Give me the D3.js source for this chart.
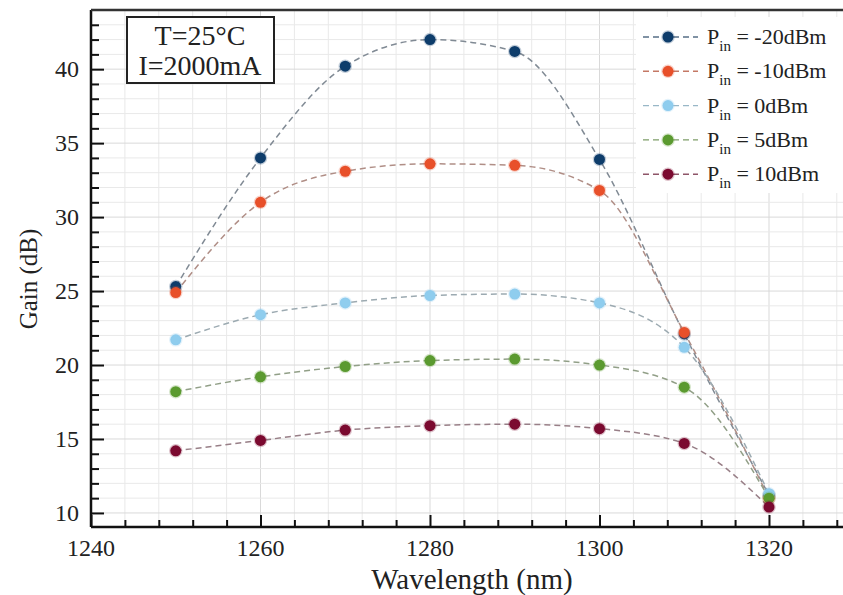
<!DOCTYPE html>
<html>
<head>
<meta charset="utf-8">
<script src="https://cdn.jsdelivr.net/npm/d3@7"></script>
<style>
  body { margin: 0; background: #fff; }
</style>
</head>
<body>
<div class="chart"></div>
<script>
// wavelengths (nm)
var wavelengths = [1250, 1260, 1270, 1280, 1290, 1300, 1310, 1320];
// gain (dB) for each input power
var gainM20 = [25.3, 34.0, 40.2, 42.0, 41.2, 33.9, 22.1, 11.2];
var gainM10 = [24.9, 31.0, 33.1, 33.6, 33.5, 31.8, 22.2, 11.0];
var gain0   = [21.7, 23.4, 24.2, 24.7, 24.8, 24.2, 21.2, 11.3];
var gain5   = [18.2, 19.2, 19.9, 20.3, 20.4, 20.0, 18.5, 11.0];
var gain10  = [14.2, 14.9, 15.6, 15.9, 16.0, 15.7, 14.7, 10.4];
var powerLabels = ["-20dBm", "-10dBm", "0dBm", "5dBm", "10dBm"];
var colors = ["#0e3d6b", "#e8502a", "#8fcdee", "#5b9a30", "#7b0a30"];
var xTicks = [1240, 1260, 1280, 1300, 1320];
var yTicks = [10, 15, 20, 25, 30, 35, 40];

var serif = '"Liberation Serif", "Times New Roman", serif';

var series = [gainM20, gainM10, gain0, gain5, gain10].map(function(vals, i) {
  return {
    label: powerLabels[i],
    color: colors[i],
    values: vals.map(function(v, j) { return {x: wavelengths[j], y: v}; })
  };
});

var width = 843, height = 595;
var svg = d3.select(".chart").append("svg")
    .attr("width", width)
    .attr("height", height)
    .style("font-family", serif);

var x = d3.scaleLinear().domain([1240, 1320]).range([91, 769]);
var y = d3.scaleLinear().domain([9.05, 44]).range([527, 10]);
var plotLeft = 91, plotBottom = 527, plotTop = 10, plotRight = width;

// grid
var grid = svg.append("g");
d3.range(1244, 1332, 4).forEach(function(v) {
  grid.append("line")
      .attr("x1", x(v)).attr("x2", x(v))
      .attr("y1", plotTop).attr("y2", plotBottom)
      .attr("stroke", v % 20 === 0 ? "#d9d9d9" : "#e9e9e9")
      .attr("stroke-width", 1);
});
d3.range(10, 44, 1).forEach(function(v) {
  grid.append("line")
      .attr("x1", plotLeft).attr("x2", plotRight)
      .attr("y1", y(v)).attr("y2", y(v))
      .attr("stroke", v % 5 === 0 ? "#d9d9d9" : "#e9e9e9")
      .attr("stroke-width", 1);
});

// lines
var line = d3.line()
    .x(function(d) { return x(d.x); })
    .y(function(d) { return y(d.y); })
    .curve(d3.curveMonotoneX);

series.forEach(function(s) {
  svg.append("path")
      .datum(s.values)
      .attr("fill", "none")
      .attr("stroke", d3.interpolateRgb(s.color, "#a0a0a0")(0.78))
      .attr("stroke-width", 1.5)
      .attr("stroke-dasharray", "6,4")
      .attr("d", line);
});

series.forEach(function(s) {
  svg.append("g").selectAll("circle")
      .data(s.values)
      .enter()
      .append("circle")
      .attr("cx", function(d) { return x(d.x); })
      .attr("cy", function(d) { return y(d.y); })
      .attr("r", 5.5)
      .attr("fill", s.color)
      .attr("stroke", s.color)
      .attr("stroke-opacity", 0.25)
      .attr("stroke-width", 2.5);
});

// axes
var xMajor = d3.axisTop(x).tickValues(xTicks).tickSize(12).tickFormat("");
var xMinor = d3.axisTop(x).tickValues(d3.range(1244, 1332, 4).filter(function(v) { return v % 20 !== 0; }))
    .tickSize(7).tickFormat("");
var yMajor = d3.axisRight(y).tickValues(yTicks).tickSize(13).tickFormat("");
var yMinor = d3.axisRight(y).tickValues(d3.range(10, 44, 1).filter(function(v) { return v % 5 !== 0; }))
    .tickSize(8).tickFormat("");

[xMajor, xMinor].forEach(function(a) {
  svg.append("g").attr("transform", "translate(0," + plotBottom + ")").call(a)
     .call(function(g) { g.select(".domain").remove(); })
     .selectAll("line").attr("stroke", "#111").attr("stroke-width", 2);
});
[yMajor, yMinor].forEach(function(a) {
  svg.append("g").attr("transform", "translate(" + plotLeft + ",0)").call(a)
     .call(function(g) { g.select(".domain").remove(); })
     .selectAll("line").attr("stroke", "#111").attr("stroke-width", 2);
});

// frame
svg.append("line").attr("x1", plotLeft).attr("x2", plotRight).attr("y1", plotBottom).attr("y2", plotBottom)
   .attr("stroke", "#111").attr("stroke-width", 2.5);
svg.append("line").attr("x1", plotLeft).attr("x2", plotLeft).attr("y1", plotTop).attr("y2", plotBottom)
   .attr("stroke", "#111").attr("stroke-width", 2.5);
svg.append("line").attr("x1", plotLeft).attr("x2", plotRight).attr("y1", plotTop).attr("y2", plotTop)
   .attr("stroke", "#333").attr("stroke-width", 2.5);

// tick labels
svg.append("g").selectAll("text")
    .data(xTicks).enter().append("text")
    .attr("x", function(d) { return x(d); })
    .attr("y", 556)
    .attr("text-anchor", "middle")
    .style("font-family", serif)
    .style("font-size", "24px")
    .attr("fill", "#222")
    .text(function(d) { return d; });
svg.append("g").selectAll("text")
    .data(yTicks).enter().append("text")
    .attr("x", 79)
    .attr("y", function(d) { return y(d) + 8; })
    .attr("text-anchor", "end")
    .style("font-family", serif)
    .style("font-size", "24px")
    .attr("fill", "#222")
    .text(function(d) { return d; });

// axis titles
svg.append("text")
    .attr("x", 472).attr("y", 589)
    .attr("text-anchor", "middle")
    .style("font-family", serif)
    .style("font-size", "29px")
    .attr("fill", "#222")
    .text("Wavelength (nm)");
svg.append("text")
    .attr("transform", "translate(37,279) rotate(-90)")
    .attr("text-anchor", "middle")
    .style("font-family", serif)
    .style("font-size", "25px")
    .attr("fill", "#222")
    .text("Gain (dB)");

// condition box
svg.append("rect")
    .attr("x", 127).attr("y", 17).attr("width", 147).attr("height", 66)
    .attr("fill", "#fff").attr("stroke", "#222").attr("stroke-width", 2);
svg.append("text").attr("x", 200).attr("y", 45).attr("text-anchor", "middle")
    .style("font-family", serif).style("font-size", "28px").attr("fill", "#222").text("T=25°C");
svg.append("text").attr("x", 200).attr("y", 75).attr("text-anchor", "middle")
    .style("font-family", serif).style("font-size", "28px").attr("fill", "#222").text("I=2000mA");

// legend
var legend = svg.append("g");
legend.append("rect")
    .attr("x", 636).attr("y", 17).attr("width", width - 636).attr("height", 176)
    .attr("fill", "#fff");
series.forEach(function(s, i) {
  var cy = 37 + i * 34.3;
  var g = legend.append("g");
  g.append("line")
      .attr("x1", 643).attr("x2", 698).attr("y1", cy).attr("y2", cy)
      .attr("stroke", d3.interpolateRgb(s.color, "#a0a0a0")(0.5))
      .attr("stroke-width", 1.4)
      .attr("stroke-dasharray", "6,4");
  g.append("circle")
      .attr("cx", 668).attr("cy", cy).attr("r", 5.5)
      .attr("fill", s.color)
      .attr("stroke", s.color).attr("stroke-opacity", 0.25).attr("stroke-width", 2.5);
  var t = g.append("text")
      .attr("x", 707).attr("y", cy + 7)
      .style("font-family", serif)
      .style("font-size", "22px")
      .attr("fill", "#222");
  t.append("tspan").text("P");
  t.append("tspan").attr("dy", 7).style("font-size", "15px").text("in");
  t.append("tspan").attr("dy", -7).text(" = " + s.label);
});
</script>
</body>
</html>
